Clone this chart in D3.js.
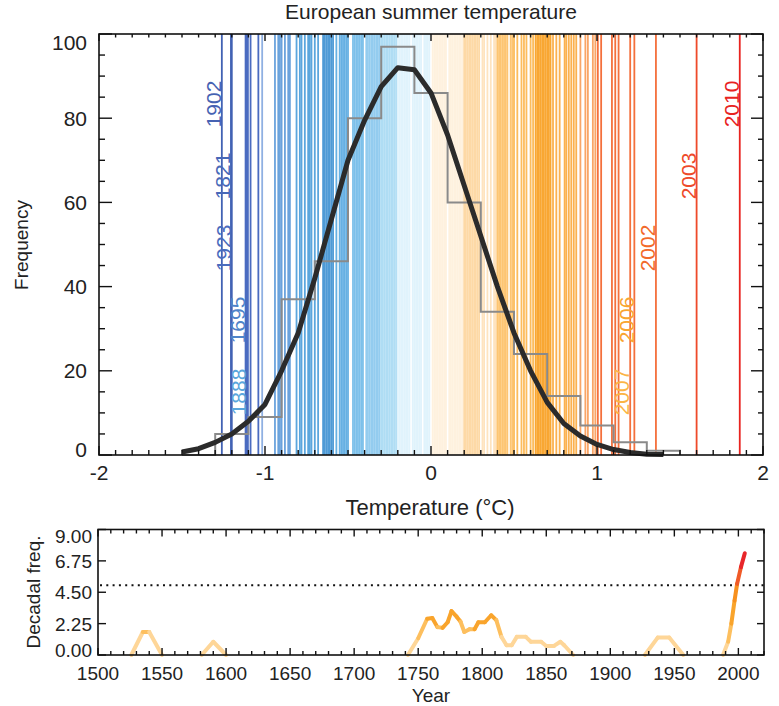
<!DOCTYPE html>
<html><head><meta charset="utf-8">
<script src="https://cdn.jsdelivr.net/npm/d3@7"></script>
<style>
body{margin:0;background:#fff;}
svg{display:block;font-family:"Liberation Sans",Arial,Helvetica,sans-serif;}
</style>
</head><body>
<svg id="c" width="779" height="706"></svg>
<script>
// ---------------- DATA ----------------
const tempTicks = [-2, -1, 0, 1, 2];
const freqTicks = [0, 20, 40, 60, 80, 100];

// histogram of summer temperature anomalies (bin edges and counts)
const histEdges = [-1.5,-1.3,-1.1,-0.9,-0.7,-0.5,-0.3,-0.1,0.1,0.3,0.5,0.7,0.9,1.1,1.3,1.5];
const histCounts = [0,5,9,37,46,80,97,86,60,34,24,14,7,3,1];

// fitted normal distribution
const fitTemps = [-1.5,-1.4,-1.3,-1.2,-1.1,-1.0,-0.9,-0.8,-0.7,-0.6,-0.5,-0.4,-0.3,-0.2,-0.1,0.0,0.1,0.2,0.3,0.4,0.5,0.6,0.7,0.8,0.9,1.0,1.1,1.2,1.3,1.4];
const fitFreq  = [0.7,1.5,3.0,5.0,8.0,12.0,20.0,29.0,42.0,56.0,70.0,79.5,87.5,92.0,91.5,86.0,76.0,64.0,52.0,40.0,29.0,20.0,12.5,7.5,4.5,2.5,1.3,0.6,0.2,0.1];

// individual summer anomalies (one line per year, as visible)
const yearTemps = [
 -1.26,-1.205,-1.20,-1.117,-1.11,-1.103,-1.087,-1.04,-1.017,
 -0.94,-0.92,-0.91,-0.90,-0.88,-0.86,-0.85,-0.81,-0.79,-0.78,-0.76,-0.74,-0.73,-0.72,-0.70,-0.68,
 -0.65,-0.64,-0.63,-0.62,-0.61,-0.60,-0.59,-0.57,-0.55,-0.54,-0.53,-0.52,-0.51,-0.50,
 -0.47,-0.46,-0.45,-0.44,-0.43,-0.42,-0.41,-0.39,-0.38,-0.37,-0.36,-0.35,-0.34,-0.33,-0.32,-0.31,
 -0.30,-0.29,-0.28,-0.27,-0.26,-0.25,-0.24,-0.23,-0.22,-0.21,-0.20,-0.19,-0.18,-0.17,-0.16,-0.15,
 -0.14,-0.13,-0.11,-0.10,-0.09,-0.08,-0.07,-0.06,-0.04,-0.03,-0.02,-0.01,
 0.01,0.02,0.03,0.04,0.05,0.06,0.07,0.08,0.09,0.11,0.12,0.13,0.14,0.15,0.16,0.17,0.18,0.19,
 0.20,0.21,0.22,0.23,0.24,0.25,0.26,0.27,0.28,0.29,0.31,0.32,0.34,0.36,0.38,0.39,
 0.40,0.41,0.42,0.43,0.44,0.45,0.46,0.48,0.49,0.50,0.52,0.545,0.56,0.575,0.60,0.615,
 0.63,0.64,0.65,0.66,0.67,0.68,0.69,0.70,0.71,0.72,0.735,0.755,0.775,0.805,0.815,0.83,0.845,0.86,0.875,
 0.90,0.93,0.945,0.975,0.99,1.005,1.025,1.09,1.11,1.13,1.20,1.225,1.355,1.60,1.86
];

// labelled extreme years (coldest first / warmest first)
const coldYears = ["1902","1821","1923","1695","1888"];
const coldTemps = [-1.26,-1.205,-1.20,-1.117,-1.11];
const warmYears = ["2010","2003","2002","2006","2007"];
const warmTemps = [1.86,1.60,1.355,1.225,1.20];

// decadal frequency of extreme summers (NaN = break in the curve)
const decYears = [1526,1535,1540,1550,NaN,
  1581,1590,1600,NaN,
  1742,1750,1757,1761,1765,1769,1773,1776,1780,1783,1786,1790,1794,1797,1802,1807,1811,1815,1819,1823,1827,1834,1838,1846,1850,1856,1861,1864,1871,NaN,
  1927,1937,1946,1957,NaN,
  1988,1992,1994.5,1997,1999,2002,2005];
const decFreq = [0,1.65,1.65,0,NaN,
  0,0.95,0,NaN,
  0,1.2,2.6,2.65,2.0,1.95,2.35,3.15,2.75,2.4,1.65,1.85,1.85,2.35,2.35,2.85,2.5,1.3,0.7,0.7,1.3,1.3,0.95,0.95,0.65,0.65,0.95,0.7,0,NaN,
  0,1.25,1.25,0,NaN,
  0,0.95,2.25,3.9,5.1,6.3,7.3];
const decThreshold = 5;
const yearTicks = [1500,1550,1600,1650,1700,1750,1800,1850,1900,1950,2000];
const decTicks = [0,2.25,4.5,6.75,9];

// ---------------- LAYOUT / STYLE ----------------
const svg = d3.select("#c");
const T = {l:99, r:763, t:34, b:455};
const B = {l:98, r:764, t:529.5, b:655};
const txt = "#222";

const x = d3.scaleLinear().domain([-2,2]).range([T.l,T.r]);
const y = d3.scaleLinear().domain([0,100]).range([T.b,T.t]);
const xb = d3.scaleLinear().domain([1500,2020]).range([B.l,B.r]);
const yb = d3.scaleLinear().domain([0,9]).range([B.b,B.t]);

const lineColor = d3.scaleThreshold()
  .domain([-1.15,-1.03,-0.95,-0.84,-0.66,-0.58,-0.48,-0.4,-0.3,-0.2,0,0.2,0.3,0.4,0.5,0.62,0.73,0.9,1.0,1.5,1.7])
  .range(['#4262b4','#4a6bc0','#8fb0e2','#6aa2dc','#5ba6dd','#4e9ad6','#66b0e3','#7cc0ea','#93ccef','#afddf4','#e0f3fc',
          '#fef1de','#fdd9a6','#fee3bf','#fdc572','#fcbc5c','#f9a733','#fbb14f','#f9a566','#f4703c','#ee4a2a','#e8231f']);

const coldLabelColors = ['#4662b2','#4868b8','#4a6cbe','#4f84c9','#5aa6dc'];
const warmLabelColors = ['#e8231f','#ee4a2a','#f26a2a','#f9a530','#fbb545'];

// ---------------- TOP CHART ----------------
svg.append("text").attr("x",431).attr("y",19).attr("text-anchor","middle")
  .attr("font-size",21).attr("fill",txt).text("European summer temperature");

// year lines
svg.append("g").selectAll("line").data(yearTemps).join("line")
  .attr("x1",d=>x(d)).attr("x2",d=>x(d)).attr("y1",T.t).attr("y2",T.b)
  .attr("stroke",d=>lineColor(d)).attr("stroke-width",1.8);

// histogram step outline
const histPts = histCounts.map((c,i)=>[histEdges[i],c]);
histPts.push([histEdges[histEdges.length-1], histCounts[histCounts.length-1]]);
histPts.push([histEdges[histEdges.length-1], 0]);
svg.append("path").datum(histPts)
  .attr("d", d3.line().x(d=>x(d[0])).y(d=>y(d[1])).curve(d3.curveStepAfter))
  .attr("fill","none").attr("stroke","#8a8a8a").attr("stroke-width",2);

// fitted curve
svg.append("path").datum(fitTemps.map((t,i)=>[t,fitFreq[i]]))
  .attr("d", d3.line().x(d=>x(d[0])).y(d=>y(d[1])))
  .attr("fill","none").attr("stroke","#2b2b2b").attr("stroke-width",5)
  .attr("stroke-linejoin","round");

// extreme year labels (row by rank)
const rowY = i => T.t + 70 + i*72;
function yearLabels(years, temps, colors){
  svg.append("g").selectAll("text").data(years).join("text")
    .attr("transform",(d,i)=>`translate(${x(temps[i])-0.8},${rowY(i)}) rotate(-90)`)
    .attr("text-anchor","middle").attr("font-size",21)
    .attr("fill",(d,i)=>colors[i]).text(d=>d);
}
yearLabels(coldYears, coldTemps, coldLabelColors);
yearLabels(warmYears, warmTemps, warmLabelColors);

// frame and ticks
function frame(R){
  svg.append("rect").attr("x",R.l).attr("y",R.t).attr("width",R.r-R.l).attr("height",R.b-R.t)
    .attr("fill","none").attr("stroke","#111").attr("stroke-width",1.6);
}
function ticksX(scale, vals, R, lenB, lenT){
  const g = svg.append("g").attr("stroke","#111").attr("stroke-width",1.4);
  vals.forEach(v=>{
    const px = scale(v);
    g.append("line").attr("x1",px).attr("x2",px).attr("y1",R.b).attr("y2",R.b-lenB);
    g.append("line").attr("x1",px).attr("x2",px).attr("y1",R.t).attr("y2",R.t+lenT);
  });
}
function ticksY(scale, vals, R, lenL, lenR){
  const g = svg.append("g").attr("stroke","#111").attr("stroke-width",1.4);
  vals.forEach(v=>{
    const py = scale(v);
    g.append("line").attr("y1",py).attr("y2",py).attr("x1",R.l).attr("x2",R.l+lenL);
    g.append("line").attr("y1",py).attr("y2",py).attr("x1",R.r).attr("x2",R.r-lenR);
  });
}
frame(T);
const majX = x.ticks(4), minX = x.ticks(40).filter(v=>!majX.some(m=>Math.abs(m-v)<1e-9));
ticksX(x, minX, T, 5, 3.5);
ticksX(x, majX, T, 9, 7);
const majY = freqTicks, minY = y.ticks(20).filter(v=>v%20!==0);
ticksY(y, minY, T, 6, 5);
ticksY(y, majY, T, 13, 12);

// tick labels
svg.append("g").selectAll("text").data(tempTicks).join("text")
  .attr("x",d=>x(d)).attr("y",T.b+25).attr("text-anchor","middle")
  .attr("font-size",21).attr("fill",txt).text(d=>String(d));
svg.append("g").selectAll("text").data(freqTicks).join("text")
  .attr("x",87).attr("y",d=>Math.max(T.t+8, Math.min(T.b-6, y(d)))+7.5)
  .attr("text-anchor","end").attr("font-size",21).attr("fill",txt).text(d=>String(d));

svg.append("text").attr("x",430).attr("y",515).attr("text-anchor","middle")
  .attr("font-size",22).attr("fill",txt).text("Temperature (°C)");
svg.append("text").attr("transform","translate(28,245) rotate(-90)").attr("text-anchor","middle")
  .attr("font-size",19).attr("fill",txt).text("Frequency");

// ---------------- BOTTOM CHART ----------------
const decColor = d3.scaleThreshold().domain([1.5,2.1,3.6,5.0,6.0])
  .range(['#fed698','#fdbf5e','#f9a42c','#f7901e','#f05a28','#e8262a']);

svg.append("line").attr("x1",B.l+2).attr("x2",B.r).attr("y1",yb(decThreshold)).attr("y2",yb(decThreshold))
  .attr("stroke","#111").attr("stroke-width",2).attr("stroke-dasharray","2,4.3");

const segs = [];
for(let i=0;i<decYears.length-1;i++){
  if(isNaN(decYears[i])||isNaN(decYears[i+1])) continue;
  segs.push({a:[decYears[i],decFreq[i]], b:[decYears[i+1],decFreq[i+1]]});
}
svg.append("g").selectAll("line").data(segs).join("line")
  .attr("x1",d=>xb(d.a[0])).attr("y1",d=>yb(d.a[1]))
  .attr("x2",d=>xb(d.b[0])).attr("y2",d=>yb(d.b[1]))
  .attr("stroke",d=>decColor((d.a[1]+d.b[1])/2))
  .attr("stroke-width",4).attr("stroke-linecap","round");

frame(B);
const majXB = yearTicks, minXB = xb.ticks(52).filter(v=>v%50!==0);
ticksX(xb, minXB, B, 4, 4);
ticksX(xb, majXB, B, 7, 7);
ticksY(yb, decTicks, B, 8, 7);

svg.append("g").selectAll("text").data(yearTicks).join("text")
  .attr("x",d=>xb(d)).attr("y",B.b+25).attr("text-anchor","middle")
  .attr("font-size",19).attr("fill",txt).text(d=>String(d));
svg.append("g").selectAll("text").data(decTicks).join("text")
  .attr("x",92).attr("y",d=>Math.max(B.t+6, Math.min(B.b-5.5, yb(d)))+7)
  .attr("text-anchor","end").attr("font-size",19).attr("fill",txt).text(d=>d.toFixed(2));

svg.append("text").attr("x",431).attr("y",702).attr("text-anchor","middle")
  .attr("font-size",19).attr("fill",txt).text("Year");
svg.append("text").attr("transform","translate(40,592) rotate(-90)").attr("text-anchor","middle")
  .attr("font-size",19).attr("fill",txt).text("Decadal freq.");
</script>
</body></html>
